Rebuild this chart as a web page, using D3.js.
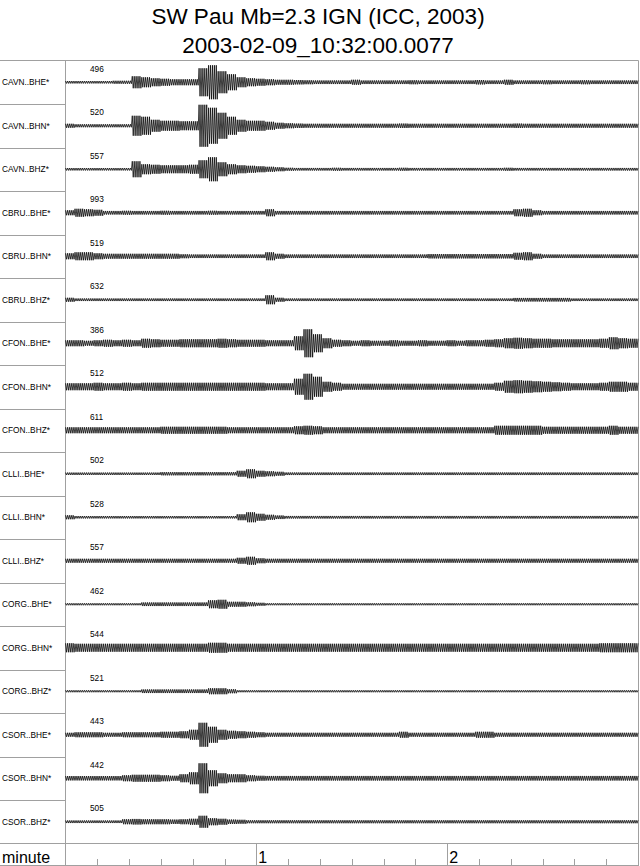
<!DOCTYPE html>
<html><head><meta charset="utf-8">
<script src="https://cdn.jsdelivr.net/npm/d3@7"></script>
<style>body{margin:0;background:#fff} svg{display:block}</style>
</head><body>
<script>
const titleLines = ["SW Pau Mb=2.3 IGN (ICC, 2003)", "2003-02-09_10:32:00.0077"];
const stations = ["CAVN..BHE*","CAVN..BHN*","CAVN..BHZ*","CBRU..BHE*","CBRU..BHN*","CBRU..BHZ*",
  "CFON..BHE*","CFON..BHN*","CFON..BHZ*","CLLI..BHE*","CLLI..BHN*","CLLI..BHZ*",
  "CORG..BHE*","CORG..BHN*","CORG..BHZ*","CSOR..BHE*","CSOR..BHN*","CSOR..BHZ*"];
const peakCounts = [496,520,557,993,519,632,386,512,611,502,528,557,462,544,521,443,442,505];
const axisLabel = "minute";
const minuteTicks = [1, 2];
const minorTickSeconds = [10,20,30,40,50,70,80,90,100,110,130,140,150,160,170];
const spanSeconds = 180;   // 3 minutes shown
const binSeconds = 3;      // envelope bins (amplitude, per 3 s)
const sampleSeconds = 0.3; // oscillation drawing step

// envelope amplitudes (relative units) per 3-second bin, 60 bins per trace
const envCAVN_BHE = [1.2,1.2,1.2,1.2,1.2,1.5,1.5, 6,5,4,3.5,3,3,3, 14,17,11,8,5,4,3.5,3,2.5,
  2.5,2.2,2,1.8,1.8,1.8,1.8,2.5,1.8,1.8, 1.8,1.8,1.8,2,1.8,1.8,1.8,1.8,1.8,1.8,
  2.2,1.8,1.8,2.5,1.8,1.8,1.8,2,1.8,1.8, 1.8,2,1.8,1.8,1.8,1.8,1.8];
const envCAVN_BHN = [2,1.5,1.5,1.5,1.5,1.5,1.5, 10,9,6,5,5,4.5,4.5, 21,18,13,9,6,5,5,4,3,
  2.5,2.2,2,2,2,2,2,2,2,2, 2,2,2.2,2,2,2,2,2,2,2, 2,2,2,2,2.2,2,2,2,2,2, 2,2,2,2,2,2,2];
const envCAVN_BHZ = [1.2,1.2,1.2,1.2,1.2,1.2,1.2, 8,5,4.5,4,4,4,4.5, 9,12,7,5,4,3.5,3,2.5,2,
  1.5,1.3,1.3,1.3,1.3,1.5,1.3,1.3,1.3,1.3, 1.3,1.3,1.5,1.3,1.3,1.3,1.3,1.3,1.3,1.3,
  1.3,1.3,1.3,1.5,1.3,1.3,1.3,1.3,1.3,1.3, 1.3,1.3,1.3,1.3,1.3,1.3,1.3];
const envCBRU_BHE = [2.5,4,3.5,3, 1.8,1.8,2,1.8,1.8,1.8,2,1.8,1.8,1.8,1.8,2,1.8,1.8,1.8,1.8,1.8,
  3.5, 1.8,1.8,1.8,1.8,1.8,1.8,1.8,1.8,1.8,1.8,1.8,1.8,1.8,1.8,1.8,1.8,1.8,1.8,1.8,1.8,1.8,1.8,1.8,1.8,1.8,
  3.5,4,2.5, 1.8,1.8,1.8,1.8,1.8,1.8,1.8,1.8,1.8,1.8];
const envCBRU_BHN = [3,4,4,3,2.5,2.5,2.5,2.5,2.5,2.5,2.5,2.5,2, 1.8,1.8,1.8,1.8,1.8,1.8,1.8,1.8,
  4,2.5, 1.8,1.8,1.8,1.8,1.8,1.8,1.8,1.8,1.8,1.8,1.8,1.8,1.8,1.8,1.8,
  2.2,2.2,2.2,2.2,2.2,2.2,2.2,2.2,2.2, 3.5,4,2.5, 1.8,1.8,1.8,1.8,1.8,1.8,1.8,1.8,1.8,1.8];
const envCBRU_BHZ = [2, 1.3,1.3,1.3,1.3,1.3,1.3,1.3,1.3,1.3,1.3,1.3,1.3,1.3,1.3,1.3,1.3,1.3,1.3,1.3,1.3,
  4.5,2, 1.3,1.3,1.3,1.3,1.3,1.3,1.3,1.3,1.3,1.3,1.3,1.3,1.3,1.3,1.3,1.3,1.3,1.3,1.3,1.3,1.3,1.3,1.3,1.3,
  1.8,1.8,1.8,1.8,1.8,1.8, 1.3,1.3,1.3,1.3,1.3,1.3,1.3];
const envCFON_BHE = [3,3,2.5,3,3.5,3,3.5,3,4.5,4,3.5,3.5,4,4,4,4,4.5,4,3.5,3.5,3.5,3,3,3,
  7,14,9,5,3.5,3, 2.5,3,2.5,2.5,3,2.5,2.5,3,2.5,2.5,3,2.5,3,3,3.5,
  4,5,5.5,5,4.5,4.5,4,4,4,4,4,4.5,6,5,4.5];
const envCFON_BHN = [3.5,3.5,3.5,4,3.5,3.5,4,3.5, 4,4,4,4,4,4,4,4,4,4,4,4,4, 3.5,3.5,3.5,
  8,13,10,5,4, 3,3,3,3,3,3,3,3,3,3,3,3,3,3,3,3,
  4,6,6.5,6,5.5,5,4.5,4,3.5,3.5,3.5,4,5,5,4];
const envCFON_BHZ = [3,3,3,3,3,3,3,3,3,3, 3.5,3.5,3.5,3.5,3.5,3.5,3.5, 3,3,3,3,3,3,3, 4,4.5,4,
  3,3,3,3,3,3,3,3,3,3,3,3,3,3,3,3,3,3, 4.5,4.5,4.5,4.5,4.5, 3.5,3.5,3.5,3.5,3.5,3.5,3.5, 4.5, 3.5,3.5];
const envCLLI_BHE = [1.2,1.2,1.2,1.2,1.2,1.2,1.2,1.2,1.2,1.2, 1.6,1.6,1.6,1.6,1.6,1.6,1.6,1.6,
  3,4.5,3,2.5,2, 1.3,1.3,1.3,1.3,1.3,1.3,1.3,1.3,1.3,1.3,1.3,1.3,1.3,1.3,1.3,1.3,1.3,1.3,1.3,1.3,
  1.3,1.3,1.3,1.3,1.3,1.3,1.3,1.3,1.3,1.3,1.3,1.3,1.3,1.3,1.3,1.3,1.3];
const envCLLI_BHN = [2, 1.2,1.2,1.2,1.2,1.2,1.2,1.2,1.2,1.2,1.2,1.2,1.2,1.2,1.2,1.2,1.2,1.2,
  3,5,3.5,2.5,1.8, 1.3,1.3,1.3,1.3,1.3,1.3,1.3,1.3,1.3,1.3,1.3,1.3,1.3,1.3,1.3,1.3,1.3,1.3,1.3,1.3,
  1.3,1.3,1.3,1.3,1.3,1.3,1.3,1.3,1.3,1.3,1.3,1.3,1.3,1.3,1.3,1.3,1.3];
const envCLLI_BHZ = [2,2,2,2,2,2,2,2,2,2,2,2,2,2,2,2,2,2, 3,4,2.5,
  2,2,2,2,2,2,2,2,2,2,2,2,2,2,2,2,2,2,2,2,2,2,2,2,2,2,2,2,2,2,2,2,2,2,2,2,2,2,2];
const envCORG_BHE = [1,1,1,1,1,1,1,1, 1.8,1.8,1.8,1.8,1.8,1.8,1.8, 4,4.5,2.5,2.5,2,1.5,
  1,1,1,1,1,1,1,1,1,1,1,1,1,1,1,1,1,1,1,1,1,1,1,1,1,1,1,1,1,1,1,1,1,1,1,1,1,1,1];
const envCORG_BHN = [4.5, 4,4,4,4,4,4,4,4,4,4,4,4,4,4, 5,5,
  4,4,4,4,4,4,4,4,4,4,4,4,4,4,4,4,4,4,4,4,4,4,4,4,4,4,4,4,4,4,4,4,4,4,4,4,4,4,4, 4.5,4.5,4.5,4.5];
const envCORG_BHZ = [1,1,1,1,1,1,1,1, 1.8,1.8,1.8,1.8,1.8,1.8,1.8, 3,3,2,
  1,1,1,1,1,1,1,1,1,1,1,1,1,1,1,1,1,1,1,1,1,1,1,1,1,1,1,1,1,1,1,1,1,1,1,1,1,1,1,1];
const envCSOR_BHE = [2,2.5,2.5,2.5,2,2,2.5,2.5,2.5,2.5,3,3,3.5,5, 12,8,5,4,3.5,3,2.5,
  2,2,2,2,2,2,2,2,2,2,2,2,2,2, 3, 2,2,2,2,2,2,2, 3,3, 2,2,2,2,2,2,2,2,2,2,2,2,2,2,2];
const envCSOR_BHN = [2.2,2.2,2.2,2.2,2.2,2.2, 3,3.5,3.5,3.5,3,2.5,4,6, 15,8,5,4,4,3,2.5,
  2.3,2.3,2.3,2.3,2.3,2.3,2.3,2.3,2.3,2.3,2.3,2.3,2.3,2.3,2.3,2.3,2.3,2.3,2.3,2.3,
  2.3,2.3,2.3,2.3,2.3,2.3,2.3,2.3,2.3,2.3,2.3,2.3,2.3,2.3,2.3,2.3,2.3,2.3,2.3];
const envCSOR_BHZ = [1.3,1.3,1.3,1.3,1.3,1.3, 2.5,2.8,2.5,2.5,2.5,2.2,2.5,3, 6,3.5,3,2.2,2,
  1.5,1.5,1.5,1.5,1.5,1.5,1.5,1.5,1.5,1.5,1.5,1.5,1.5,1.5,1.5,1.5,1.5,1.5,1.5,1.5,1.5,
  1.5,1.5,1.5,1.5,1.5,1.5,1.5,1.5,1.5,1.5,1.5,1.5,1.5,1.5,1.5,1.5,1.5,1.5,1.5,1.5,1.5];

const envelopes = [envCAVN_BHE,envCAVN_BHN,envCAVN_BHZ,envCBRU_BHE,envCBRU_BHN,envCBRU_BHZ,
  envCFON_BHE,envCFON_BHN,envCFON_BHZ,envCLLI_BHE,envCLLI_BHN,envCLLI_BHZ,
  envCORG_BHE,envCORG_BHN,envCORG_BHZ,envCSOR_BHE,envCSOR_BHN,envCSOR_BHZ];

const W = 640, H = 866;
const font = "'Liberation Sans', Arial, Helvetica, sans-serif";
const gridColor = "#a0a0a0";
const plotTop = 60.5, rowH = 43.5;
const axisTop = plotTop + stations.length * rowH;
const labelColRight = 65.5, plotRight = 638.5;

const svg = d3.select("body").append("svg").attr("width", W).attr("height", H)
  .style("font-family", font);

const x = d3.scaleLinear().domain([0, spanSeconds]).range([65.5, 638]);
const row = d3.scaleBand().domain(stations).range([plotTop, axisTop]);
const amp = d3.scaleLinear().domain([-20, 20]).range([20, -20]);

// titles
svg.selectAll("text.title").data(titleLines).join("text").attr("class","title")
  .attr("x", 318).attr("y", (d,i) => 24 + i*28.5)
  .attr("text-anchor","middle").attr("font-size", 22.5).attr("fill","#000").text(d => d);

// frame
const g = svg.append("g").attr("fill","none").attr("stroke",gridColor).attr("stroke-width",1);
g.append("line").attr("x1",0).attr("x2",plotRight).attr("y1",plotTop).attr("y2",plotTop);
g.append("line").attr("x1",labelColRight).attr("x2",labelColRight).attr("y1",plotTop).attr("y2",H);
g.append("line").attr("x1",plotRight).attr("x2",plotRight).attr("y1",plotTop).attr("y2",H);
g.append("line").attr("x1",0).attr("x2",plotRight).attr("y1",axisTop).attr("y2",axisTop);
g.append("line").attr("x1",0).attr("x2",plotRight).attr("y1",H-0.5).attr("y2",H-0.5);
g.selectAll("line.sep").data(stations.slice(1)).join("line").attr("class","sep")
  .attr("x1",0).attr("x2",labelColRight)
  .attr("y1", d => Math.round(row(d)) + 0.5).attr("y2", d => Math.round(row(d)) + 0.5);

// station labels and peak counts
svg.selectAll("text.st").data(stations).join("text").attr("class","st")
  .attr("x", 2).attr("y", d => row(d) + row.bandwidth()/2 + 3)
  .attr("font-size", 8.3).attr("fill","#000").text(d => d);
svg.selectAll("text.pk").data(peakCounts).join("text").attr("class","pk")
  .attr("x", 90).attr("y", (d,i) => row(stations[i]) + 11)
  .attr("font-size", 8.3).attr("fill","#000").text(d => d);

// traces
const line = d3.line().x(d => x(d[0])).y(d => d[1]);
stations.forEach((s, i) => {
  const env = envelopes[i];
  const mid = row(s) + row.bandwidth()/2;
  const pts = [];
  const nSamples = Math.round(spanSeconds / sampleSeconds);
  for (let k = 0; k <= nSamples; k++) {
    const t = k * sampleSeconds;
    const b = Math.min(Math.floor(t / binSeconds), env.length - 1);
    const sign = (k % 2 === 0) ? 1 : -1;
    pts.push([t, mid + amp(sign * env[b])]);
  }
  svg.append("path").attr("d", line(pts)).attr("fill","none")
    .attr("stroke","#000").attr("stroke-width",0.75).attr("stroke-linejoin","round");
});

// time axis (minutes)
const ax = svg.append("g");
ax.selectAll("line.minor").data(minorTickSeconds).join("line").attr("class","minor")
  .attr("x1", d => Math.round(x(d))+0.5).attr("x2", d => Math.round(x(d))+0.5)
  .attr("y1", H - 7).attr("y2", H).attr("stroke", gridColor);
ax.selectAll("line.major").data(minuteTicks).join("line").attr("class","major")
  .attr("x1", d => Math.round(x(d*60))+0.5).attr("x2", d => Math.round(x(d*60))+0.5)
  .attr("y1", axisTop).attr("y2", H).attr("stroke", gridColor);
ax.selectAll("text.ml").data(minuteTicks).join("text").attr("class","ml")
  .attr("x", d => x(d*60) + 2).attr("y", H - 3.5)
  .attr("font-size", 16).attr("fill","#000").text(d => d);
ax.append("text").attr("x", 2).attr("y", H - 3.5).attr("font-size", 16)
  .attr("fill","#000").text(axisLabel);
</script>
</body></html>
